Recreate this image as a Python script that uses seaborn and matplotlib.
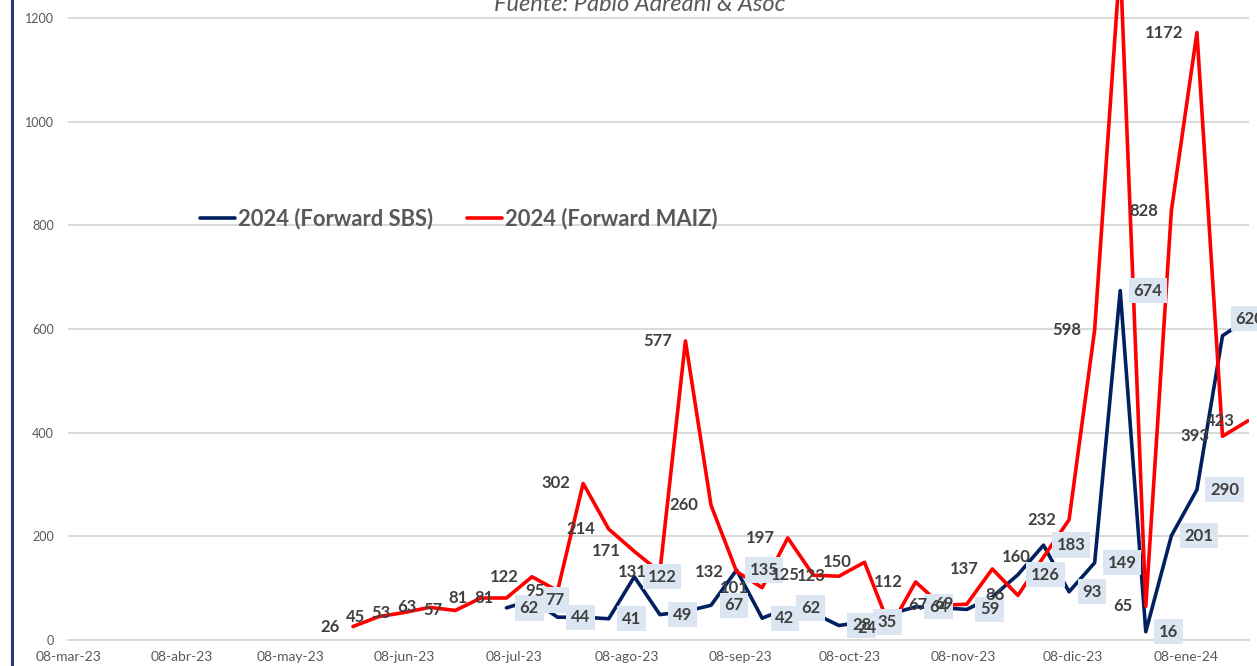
import numpy as np
import pandas as pd
import matplotlib
matplotlib.use("Agg")
import matplotlib.pyplot as plt
import seaborn as sns
from matplotlib.lines import Line2D

# ---------------- data ----------------
start_date = "2023-05-25"
n_points = 36
nan = np.nan

sbs = [nan, nan, nan, nan, nan, nan,
       62, 77, 44, 44, 41, 122, 49, 55, 67, 135, 42, 62, 52, 28, 35, 50,
       64, 62, 59, 83, 126, 183, 93, 149, 674, 16, 201, 290, 587, 620]
maiz = [26, 45, 53, 63, 57, 81, 81, 122, 95, 302, 214, 171, 131, 577, 260,
        132, 101, 197, 125, 123, 150, 24, 112, 67, 69, 137, 86, 160, 232,
        598, 1310, 65, 828, 1172, 393, 423]

sbs_labels = ["", "", "", "", "", "",
              "62", "77", "44", "", "41", "122", "49", "", "67", "135", "42",
              "62", "", "28", "35", "", "64", "", "59", "", "126", "183", "93",
              "149", "674", "16", "201", "290", "620", ""]
maiz_labels = ["26", "45", "53", "63", "57", "81", "81", "122", "95", "302",
               "214", "171", "131", "577", "260", "132", "101", "197", "125",
               "123", "150", "24", "112", "67", "69", "137", "86", "160", "232",
               "598", "", "65", "828", "1172", "393", "423"]

series_names = ["2024 (Forward SBS)", "2024 (Forward MAIZ)"]
series_colors = ["#002060", "#FF0000"]

tick_dates = ["2023-03-08", "2023-04-08", "2023-05-08", "2023-06-08",
              "2023-07-08", "2023-08-08", "2023-09-08", "2023-10-08",
              "2023-11-08", "2023-12-08", "2024-01-08"]
tick_labels = ["08-mar-23", "08-abr-23", "08-may-23", "08-jun-23",
               "08-jul-23", "08-ago-23", "08-sep-23", "08-oct-23",
               "08-nov-23", "08-dic-23", "08-ene-24"]
y_ticks = [0, 200, 400, 600, 800, 1000, 1200]
subtitle = "Fuente: Pablo Adreani & Asoc"

# ---------------- frame ----------------
dates = pd.date_range(start_date, periods=n_points, freq="7D")
df = pd.DataFrame({"fecha": dates, series_names[0]: sbs, series_names[1]: maiz})
long = df.melt(id_vars="fecha", var_name="serie", value_name="valor").dropna()

sns.set_style("white")
plt.rcParams["font.family"] = ["Lato", "DejaVu Sans"]

W, H = 1257, 666
fig = plt.figure(figsize=(W / 100, H / 100), dpi=100)
ax = fig.add_axes([68 / W, 1 - 640 / H, (1249 - 68) / W, 640 / H])

sns.lineplot(data=long, x="fecha", y="valor", hue="serie",
             hue_order=series_names, palette=series_colors,
             linewidth=2.6, ax=ax, legend=False, sort=True)

ax.set_xlim(pd.Timestamp(tick_dates[0]), dates[-1] + pd.Timedelta(hours=6))
ax.set_ylim(0, 1200 * 640 / 622)
ax.set_yticks(y_ticks)
ax.set_yticklabels([str(v) for v in y_ticks])
ax.set_xticks(pd.to_datetime(tick_dates))
ax.set_xticklabels(tick_labels)
ax.set_xlabel("")
ax.set_ylabel("")

ax.grid(axis="y", color="#D9D9D9", linewidth=1.4)
ax.grid(axis="x", visible=False)
ax.set_axisbelow(True)
for s in ["top", "right", "left"]:
    ax.spines[s].set_visible(False)
ax.spines["bottom"].set_color("#D9D9D9")
ax.spines["bottom"].set_linewidth(1.4)
ax.tick_params(axis="y", length=0, pad=10, labelsize=9, labelcolor="#595959")
ax.tick_params(axis="x", length=4, width=1.2, color="#D9D9D9", pad=4,
               labelsize=10, labelcolor="#595959", direction="out")

# data labels
for d, lbl in zip(dates, sbs_labels):
    if lbl:
        ax.annotate(lbl, (d, float(lbl)), xytext=(9.5, 0), textcoords="offset points",
                    ha="left", va="center", fontsize=12, fontweight="bold",
                    color="#404040", zorder=5, annotation_clip=False,
                    bbox=dict(boxstyle="square,pad=0.28", fc="#DCE6F2", ec="none"))
for d, lbl in zip(dates, maiz_labels):
    if lbl:
        ax.annotate(lbl, (d, float(lbl)), xytext=(-9.5, 0), textcoords="offset points",
                    ha="right", va="center", fontsize=12, fontweight="bold",
                    color="#404040", zorder=6, annotation_clip=False)

# legend
handles = [Line2D([], [], color=c, linewidth=2.6) for c in series_colors]
fig.legend(handles, series_names, loc="center left",
           bbox_to_anchor=(200 / W, 1 - 219 / H), ncol=2, frameon=False,
           prop={"size": 15.8, "weight": "bold"}, labelcolor="#595959",
           handlelength=1.6, handletextpad=0.12, columnspacing=1.55,
           borderpad=0, borderaxespad=0)

# subtitle (cut at top as in the reference)
fig.text(640 / W, 1 - 11 / H, subtitle, ha="center", va="baseline",
         fontsize=17, style="italic", color="#595959")

# left border line
fig.add_artist(Line2D([12 / W, 12 / W], [0, 1], transform=fig.transFigure,
                      color="#1F3A7A", linewidth=2.2))

fig.savefig("out.png", dpi=100)
